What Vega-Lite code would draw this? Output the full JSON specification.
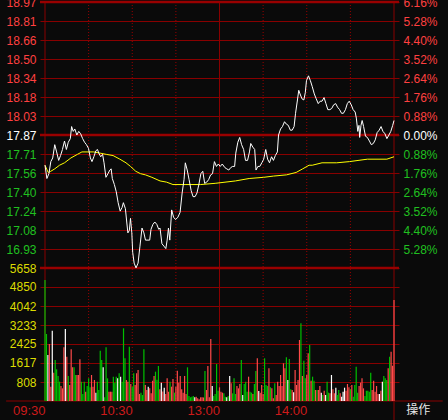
{
"$schema":"https://vega.github.io/schema/vega-lite/v6.json",
"width":359,"height":399,
"autosize":{"type":"none"},
"padding":{"left":40,"top":2,"right":49,"bottom":19},
"background":"#0a0a0a",
"config":{"view":{"stroke":null},"axis":{"labelFont":"Liberation Sans","labelFontSize":12,"ticks":false,"domain":false,"title":null,"labelFlush":false,"labelOverlap":false,"labelBound":false,"gridColor":"#880000","gridWidth":1,"gridOpacity":1}},
"datasets":{
"price":[
{"m":0,"p":17.62},{"m":1.3,"p":17.51},{"m":2.7,"p":17.55},{"m":4.0,"p":17.65},{"m":5.3,"p":17.68},{"m":6.7,"p":17.79},{"m":8.0,"p":17.73},{"m":9.4,"p":17.66},{"m":10.7,"p":17.70},{"m":12.0,"p":17.75},{"m":13.4,"p":17.82},{"m":14.7,"p":17.75},{"m":16.0,"p":17.81},{"m":17.4,"p":17.84},{"m":18.3,"p":17.94},{"m":19.4,"p":17.90},{"m":20.5,"p":17.92},{"m":21.9,"p":17.87},{"m":23.2,"p":17.90},{"m":24.5,"p":17.88},{"m":25.9,"p":17.84},{"m":27.2,"p":17.81},{"m":28.5,"p":17.79},{"m":29.9,"p":17.76},{"m":31.2,"p":17.68},{"m":32.3,"p":17.65},{"m":33.6,"p":17.69},{"m":35.0,"p":17.74},{"m":36.1,"p":17.75},{"m":37.0,"p":17.72},{"m":38.3,"p":17.69},{"m":39.6,"p":17.71},{"m":40.6,"p":17.64},{"m":41.9,"p":17.52},{"m":43.3,"p":17.55},{"m":44.6,"p":17.58},{"m":45.5,"p":17.59},{"m":46.3,"p":17.51},{"m":47.7,"p":17.46},{"m":49.0,"p":17.40},{"m":50.3,"p":17.31},{"m":51.7,"p":17.24},{"m":53.0,"p":17.27},{"m":53.9,"p":17.31},{"m":55.3,"p":17.26},{"m":56.2,"p":17.15},{"m":57.0,"p":17.06},{"m":58.0,"p":17.08},{"m":58.8,"p":17.18},{"m":59.7,"p":17.06},{"m":60.3,"p":16.90},{"m":61.3,"p":16.81},{"m":62.6,"p":16.77},{"m":64.0,"p":16.81},{"m":65.3,"p":16.95},{"m":66.7,"p":17.10},{"m":68.0,"p":17.06},{"m":69.1,"p":17.00},{"m":72.0,"p":17.00},{"m":72.9,"p":17.09},{"m":74.2,"p":17.13},{"m":75.5,"p":17.15},{"m":76.9,"p":17.13},{"m":78.2,"p":17.09},{"m":79.1,"p":17.10},{"m":80.4,"p":16.97},{"m":81.8,"p":16.95},{"m":83.1,"p":16.93},{"m":84.0,"p":17.00},{"m":84.9,"p":17.10},{"m":85.8,"p":17.00},{"m":87.1,"p":17.25},{"m":88.4,"p":17.19},{"m":89.8,"p":17.17},{"m":91.4,"p":17.19},{"m":92.9,"p":17.23},{"m":94.3,"p":17.39},{"m":95.6,"p":17.50},{"m":96.5,"p":17.64},{"m":97.8,"p":17.58},{"m":99.1,"p":17.50},{"m":100.5,"p":17.41},{"m":101.8,"p":17.36},{"m":103.2,"p":17.36},{"m":104.5,"p":17.39},{"m":105.8,"p":17.46},{"m":107.2,"p":17.55},{"m":108.5,"p":17.57},{"m":109.8,"p":17.47},{"m":111.2,"p":17.48},{"m":112.5,"p":17.50},{"m":113.9,"p":17.54},{"m":115.2,"p":17.55},{"m":116.5,"p":17.65},{"m":117.9,"p":17.61},{"m":119.2,"p":17.63},{"m":120.5,"p":17.61},{"m":121.9,"p":17.63},{"m":123.7,"p":17.60},{"m":125.0,"p":17.59},{"m":126.4,"p":17.58},{"m":127.7,"p":17.60},{"m":129.0,"p":17.61},{"m":130.4,"p":17.61},{"m":131.2,"p":17.72},{"m":132.6,"p":17.81},{"m":133.9,"p":17.85},{"m":135.2,"p":17.79},{"m":136.6,"p":17.75},{"m":137.9,"p":17.66},{"m":139.3,"p":17.66},{"m":140.6,"p":17.73},{"m":141.5,"p":17.80},{"m":142.9,"p":17.77},{"m":144.2,"p":17.75},{"m":145.1,"p":17.58},{"m":146.4,"p":17.61},{"m":147.7,"p":17.61},{"m":149.1,"p":17.64},{"m":150.4,"p":17.67},{"m":151.8,"p":17.75},{"m":153.1,"p":17.67},{"m":154.4,"p":17.64},{"m":155.8,"p":17.69},{"m":157.1,"p":17.66},{"m":158.4,"p":17.70},{"m":159.8,"p":17.73},{"m":160.6,"p":17.87},{"m":162.0,"p":17.92},{"m":163.3,"p":17.94},{"m":164.7,"p":17.98},{"m":166.0,"p":17.96},{"m":167.3,"p":17.95},{"m":168.7,"p":17.91},{"m":170.0,"p":17.91},{"m":171.3,"p":17.94},{"m":172.3,"p":18.05},{"m":173.6,"p":18.16},{"m":174.5,"p":18.24},{"m":175.4,"p":18.21},{"m":176.7,"p":18.17},{"m":178.0,"p":18.16},{"m":179.0,"p":18.22},{"m":179.8,"p":18.32},{"m":181.2,"p":18.36},{"m":182.5,"p":18.32},{"m":183.8,"p":18.27},{"m":185.2,"p":18.21},{"m":186.5,"p":18.17},{"m":187.9,"p":18.13},{"m":189.2,"p":18.15},{"m":190.5,"p":18.15},{"m":191.9,"p":18.18},{"m":193.2,"p":18.13},{"m":194.5,"p":18.08},{"m":195.9,"p":18.08},{"m":197.2,"p":18.09},{"m":198.5,"p":18.12},{"m":199.9,"p":18.13},{"m":201.2,"p":18.10},{"m":202.6,"p":18.08},{"m":203.9,"p":18.05},{"m":205.2,"p":18.05},{"m":206.6,"p":18.08},{"m":207.9,"p":18.13},{"m":209.2,"p":18.15},{"m":210.6,"p":18.12},{"m":211.9,"p":18.08},{"m":213.3,"p":18.06},{"m":214.1,"p":18.01},{"m":215.1,"p":17.90},{"m":215.9,"p":17.95},{"m":216.4,"p":17.85},{"m":217.3,"p":17.95},{"m":218.1,"p":17.99},{"m":219.1,"p":17.94},{"m":220.4,"p":17.86},{"m":221.7,"p":17.85},{"m":223.1,"p":17.82},{"m":224.4,"p":17.79},{"m":225.8,"p":17.80},{"m":227.1,"p":17.83},{"m":228.4,"p":17.89},{"m":229.8,"p":17.91},{"m":231.1,"p":17.94},{"m":232.4,"p":17.90},{"m":233.8,"p":17.88},{"m":235.1,"p":17.84},{"m":236.5,"p":17.87},{"m":237.8,"p":17.90},{"m":239.1,"p":17.95},{"m":240,"p":17.99}
],
"avg":[
{"m":0,"a":17.62},{"m":2.2,"a":17.56},{"m":4.0,"a":17.57},{"m":6.7,"a":17.59},{"m":10.0,"a":17.62},{"m":13.4,"a":17.64},{"m":17.8,"a":17.68},{"m":22.3,"a":17.71},{"m":25.4,"a":17.73},{"m":28.9,"a":17.73},{"m":33.4,"a":17.73},{"m":37.9,"a":17.72},{"m":42.1,"a":17.71},{"m":46.8,"a":17.70},{"m":51.5,"a":17.67},{"m":55.7,"a":17.64},{"m":58.8,"a":17.61},{"m":62.4,"a":17.57},{"m":65.7,"a":17.55},{"m":69.1,"a":17.54},{"m":73.5,"a":17.52},{"m":79.1,"a":17.49},{"m":83.6,"a":17.48},{"m":88.0,"a":17.46},{"m":96.9,"a":17.46},{"m":107.0,"a":17.46},{"m":117.0,"a":17.47},{"m":131.0,"a":17.49},{"m":140.4,"a":17.51},{"m":150.4,"a":17.52},{"m":157.1,"a":17.53},{"m":166.0,"a":17.54},{"m":172.7,"a":17.56},{"m":177.2,"a":17.59},{"m":181.6,"a":17.62},{"m":183.8,"a":17.62},{"m":190.5,"a":17.64},{"m":200.6,"a":17.64},{"m":209.4,"a":17.65},{"m":221.7,"a":17.67},{"m":235.1,"a":17.67},{"m":240,"a":17.69}
],
"vol":[
{"m":0,"v":5149,"d":"down"},{"m":1,"v":2851,"d":"down"},{"m":2,"v":1957,"d":"flat"},{"m":3,"v":2425,"d":"up"},{"m":4,"v":610,"d":"up"},{"m":5,"v":2993,"d":"flat"},{"m":6,"v":1206,"d":"up"},{"m":7,"v":1745,"d":"down"},{"m":8,"v":1347,"d":"down"},{"m":9,"v":1064,"d":"down"},{"m":10,"v":823,"d":"down"},{"m":11,"v":638,"d":"up"},{"m":12,"v":539,"d":"up"},{"m":13,"v":2283,"d":"up"},{"m":14,"v":3064,"d":"flat"},{"m":15,"v":1886,"d":"up"},{"m":16,"v":1064,"d":"down"},{"m":17,"v":681,"d":"up"},{"m":18,"v":2198,"d":"up"},{"m":19,"v":1433,"d":"up"},{"m":20,"v":1433,"d":"down"},{"m":21,"v":1106,"d":"down"},{"m":22,"v":1106,"d":"up"},{"m":23,"v":1106,"d":"up"},{"m":24,"v":1773,"d":"up"},{"m":25,"v":823,"d":"down"},{"m":26,"v":298,"d":"down"},{"m":27,"v":823,"d":"down"},{"m":28,"v":397,"d":"up"},{"m":29,"v":638,"d":"down"},{"m":30,"v":964,"d":"down"},{"m":31,"v":582,"d":"down"},{"m":32,"v":1106,"d":"up"},{"m":33,"v":610,"d":"up"},{"m":34,"v":894,"d":"up"},{"m":35,"v":355,"d":"flat"},{"m":36,"v":823,"d":"down"},{"m":37,"v":468,"d":"down"},{"m":38,"v":2142,"d":"down"},{"m":39,"v":1745,"d":"down"},{"m":40,"v":1433,"d":"flat"},{"m":41,"v":156,"d":"down"},{"m":42,"v":2283,"d":"down"},{"m":43,"v":964,"d":"down"},{"m":44,"v":397,"d":"up"},{"m":45,"v":397,"d":"up"},{"m":46,"v":397,"d":"up"},{"m":47,"v":1035,"d":"down"},{"m":48,"v":780,"d":"down"},{"m":49,"v":1035,"d":"down"},{"m":50,"v":964,"d":"flat"},{"m":51,"v":1177,"d":"down"},{"m":52,"v":1035,"d":"flat"},{"m":53,"v":823,"d":"down"},{"m":54,"v":3092,"d":"down"},{"m":55,"v":1816,"d":"down"},{"m":56,"v":894,"d":"up"},{"m":57,"v":823,"d":"up"},{"m":58,"v":2312,"d":"down"},{"m":59,"v":723,"d":"up"},{"m":60,"v":610,"d":"down"},{"m":61,"v":1177,"d":"down"},{"m":62,"v":681,"d":"up"},{"m":63,"v":1177,"d":"up"},{"m":64,"v":1319,"d":"up"},{"m":65,"v":298,"d":"up"},{"m":66,"v":355,"d":"down"},{"m":67,"v":255,"d":"down"},{"m":68,"v":2198,"d":"down"},{"m":69,"v":681,"d":"up"},{"m":70,"v":468,"d":"up"},{"m":71,"v":610,"d":"flat"},{"m":72,"v":539,"d":"up"},{"m":73,"v":326,"d":"up"},{"m":74,"v":859,"d":"up"},{"m":75,"v":1064,"d":"up"},{"m":76,"v":1248,"d":"down"},{"m":77,"v":900,"d":"down"},{"m":78,"v":1489,"d":"down"},{"m":79,"v":500,"d":"up"},{"m":80,"v":780,"d":"flat"},{"m":81,"v":400,"d":"up"},{"m":82,"v":567,"d":"flat"},{"m":83,"v":300,"d":"up"},{"m":84,"v":964,"d":"up"},{"m":85,"v":397,"d":"up"},{"m":86,"v":823,"d":"down"},{"m":87,"v":610,"d":"up"},{"m":88,"v":936,"d":"up"},{"m":89,"v":355,"d":"down"},{"m":90,"v":610,"d":"up"},{"m":91,"v":1291,"d":"up"},{"m":92,"v":780,"d":"up"},{"m":93,"v":1064,"d":"up"},{"m":94,"v":496,"d":"up"},{"m":95,"v":355,"d":"up"},{"m":96,"v":1064,"d":"up"},{"m":97,"v":300,"d":"up"},{"m":98,"v":1433,"d":"down"},{"m":99,"v":213,"d":"down"},{"m":100,"v":156,"d":"down"},{"m":101,"v":184,"d":"down"},{"m":102,"v":213,"d":"down"},{"m":103,"v":156,"d":"flat"},{"m":104,"v":184,"d":"up"},{"m":105,"v":114,"d":"up"},{"m":106,"v":71,"d":"up"},{"m":107,"v":156,"d":"up"},{"m":108,"v":156,"d":"up"},{"m":109,"v":150,"d":"up"},{"m":110,"v":1277,"d":"down"},{"m":111,"v":468,"d":"up"},{"m":112,"v":1489,"d":"up"},{"m":113,"v":156,"d":"up"},{"m":114,"v":2638,"d":"up"},{"m":115,"v":638,"d":"flat"},{"m":116,"v":213,"d":"down"},{"m":117,"v":300,"d":"down"},{"m":118,"v":1574,"d":"down"},{"m":119,"v":440,"d":"down"},{"m":120,"v":582,"d":"up"},{"m":121,"v":397,"d":"up"},{"m":122,"v":355,"d":"up"},{"m":123,"v":326,"d":"down"},{"m":124,"v":184,"d":"down"},{"m":125,"v":156,"d":"flat"},{"m":126,"v":213,"d":"down"},{"m":127,"v":1064,"d":"flat"},{"m":128,"v":752,"d":"up"},{"m":129,"v":326,"d":"down"},{"m":130,"v":964,"d":"down"},{"m":131,"v":298,"d":"down"},{"m":132,"v":638,"d":"up"},{"m":133,"v":539,"d":"up"},{"m":134,"v":723,"d":"up"},{"m":135,"v":1745,"d":"down"},{"m":136,"v":255,"d":"flat"},{"m":137,"v":723,"d":"down"},{"m":138,"v":823,"d":"down"},{"m":139,"v":397,"d":"down"},{"m":140,"v":1035,"d":"up"},{"m":141,"v":397,"d":"down"},{"m":142,"v":355,"d":"down"},{"m":143,"v":298,"d":"up"},{"m":144,"v":723,"d":"down"},{"m":145,"v":1277,"d":"down"},{"m":146,"v":1816,"d":"up"},{"m":147,"v":426,"d":"flat"},{"m":148,"v":355,"d":"up"},{"m":149,"v":681,"d":"up"},{"m":150,"v":298,"d":"up"},{"m":151,"v":1816,"d":"down"},{"m":152,"v":681,"d":"down"},{"m":153,"v":638,"d":"down"},{"m":154,"v":1390,"d":"up"},{"m":155,"v":582,"d":"down"},{"m":156,"v":539,"d":"up"},{"m":157,"v":114,"d":"up"},{"m":158,"v":752,"d":"down"},{"m":159,"v":255,"d":"up"},{"m":160,"v":823,"d":"up"},{"m":161,"v":638,"d":"up"},{"m":162,"v":1106,"d":"up"},{"m":163,"v":638,"d":"up"},{"m":164,"v":1603,"d":"up"},{"m":165,"v":1390,"d":"up"},{"m":166,"v":1858,"d":"down"},{"m":167,"v":894,"d":"flat"},{"m":168,"v":1788,"d":"down"},{"m":169,"v":496,"d":"down"},{"m":170,"v":468,"d":"up"},{"m":171,"v":369,"d":"flat"},{"m":172,"v":1319,"d":"up"},{"m":173,"v":681,"d":"up"},{"m":174,"v":894,"d":"up"},{"m":175,"v":2596,"d":"up"},{"m":176,"v":3305,"d":"down"},{"m":177,"v":1064,"d":"up"},{"m":178,"v":1716,"d":"down"},{"m":179,"v":964,"d":"down"},{"m":180,"v":1106,"d":"up"},{"m":181,"v":2028,"d":"up"},{"m":182,"v":2383,"d":"down"},{"m":183,"v":859,"d":"up"},{"m":184,"v":1035,"d":"down"},{"m":185,"v":859,"d":"down"},{"m":186,"v":468,"d":"up"},{"m":187,"v":468,"d":"down"},{"m":188,"v":468,"d":"up"},{"m":189,"v":638,"d":"up"},{"m":190,"v":355,"d":"flat"},{"m":191,"v":255,"d":"down"},{"m":192,"v":440,"d":"up"},{"m":193,"v":255,"d":"flat"},{"m":194,"v":823,"d":"down"},{"m":195,"v":355,"d":"down"},{"m":196,"v":326,"d":"up"},{"m":197,"v":1106,"d":"flat"},{"m":198,"v":496,"d":"up"},{"m":199,"v":326,"d":"up"},{"m":200,"v":567,"d":"flat"},{"m":201,"v":255,"d":"down"},{"m":202,"v":468,"d":"down"},{"m":203,"v":326,"d":"up"},{"m":204,"v":184,"d":"flat"},{"m":205,"v":397,"d":"flat"},{"m":206,"v":567,"d":"flat"},{"m":207,"v":440,"d":"up"},{"m":208,"v":723,"d":"up"},{"m":209,"v":582,"d":"up"},{"m":210,"v":496,"d":"down"},{"m":211,"v":681,"d":"up"},{"m":212,"v":184,"d":"down"},{"m":213,"v":681,"d":"down"},{"m":214,"v":1461,"d":"down"},{"m":215,"v":355,"d":"down"},{"m":216,"v":638,"d":"up"},{"m":217,"v":780,"d":"up"},{"m":218,"v":964,"d":"up"},{"m":219,"v":539,"d":"up"},{"m":220,"v":213,"d":"down"},{"m":221,"v":440,"d":"down"},{"m":222,"v":440,"d":"down"},{"m":223,"v":397,"d":"down"},{"m":224,"v":1206,"d":"down"},{"m":225,"v":468,"d":"up"},{"m":226,"v":859,"d":"up"},{"m":227,"v":397,"d":"up"},{"m":228,"v":638,"d":"up"},{"m":229,"v":298,"d":"up"},{"m":230,"v":298,"d":"flat"},{"m":231,"v":440,"d":"up"},{"m":232,"v":823,"d":"flat"},{"m":233,"v":1064,"d":"down"},{"m":234,"v":964,"d":"down"},{"m":235,"v":894,"d":"down"},{"m":236,"v":1390,"d":"up"},{"m":237,"v":1886,"d":"down"},{"m":238,"v":2099,"d":"up"},{"m":239,"v":1500,"d":"up"},{"m":240,"v":4300,"d":"up"}
]
},
"layer":[
{"data":{"values":[{"m":30},{"m":60},{"m":90},{"m":150},{"m":180},{"m":210}]},"mark":{"type":"rule","color":"#990000","strokeDash":[1,2],"strokeWidth":1},"encoding":{"x":{"field":"m","type":"quantitative","scale":{"domain":[0,240],"nice":false,"zero":false},"axis":{"orient":"bottom","values":[0,60,120,180],"labelExpr":"datum.value==0?'09:30':datum.value==60?'10:30':datum.value==120?'13:00':'14:00'","labelAlign":"right","labelColor":"#cc1a1a","labelFontSize":13,"labelPadding":3,"grid":false,"labelOverlap":false}}}},
{"data":{"values":[{"m":0},{"m":120},{"m":240}]},"mark":{"type":"rule","color":"#880000","strokeWidth":1},"encoding":{"x":{"field":"m","type":"quantitative","scale":{"domain":[0,240],"nice":false,"zero":false},"axis":{"orient":"bottom","values":[0,60,120,180],"labelExpr":"datum.value==0?'09:30':datum.value==60?'10:30':datum.value==120?'13:00':'14:00'","labelAlign":"right","labelColor":"#cc1a1a","labelFontSize":13,"labelPadding":3,"grid":false,"labelOverlap":false}}}},
{"data":{"values":[{"p":17.87},{"p":18.9708}]},"mark":{"type":"rule","color":"#990000","strokeWidth":2.5},"encoding":{"y":{"field":"p","type":"quantitative","scale":{"domain":[15.6684,18.971],"nice":false,"zero":false},"axis":{"orient":"right","values":[16.926464,17.08372,17.240976,17.398232,17.555488,17.712744,17.87,18.027256,18.184512,18.341768,18.499024,18.65628,18.813536,18.970792],"labelExpr":"format(abs(datum.value-17.87)/17.87*100,'.2f')+'%'","labelPadding":4,"grid":false,"labelOverlap":false,"labelColor":{"condition":[{"test":"datum.value > 17.88","value":"#ff4040"},{"test":"datum.value > 17.86","value":"#ffffff"}],"value":"#20c020"}}}}},
{"layer":[
{"data":{"values":[{"v":5658.4}]},"mark":{"type":"rule","color":"#990000","strokeWidth":2.5},"encoding":{"y":{"field":"v","type":"quantitative","scale":{"domain":[0,16975.2],"nice":false,"zero":false},"axis":{"orient":"right","values":[808.34,1616.69,2425.03,3233.37,4041.71,4850.06,5658.4],"format":".0f","labelPadding":4,"grid":false,"labelOverlap":false,"labelColor":"#dcdc00"}}}},
{"data":{"values":[{}]},"mark":{"type":"rule","color":"#880000","strokeWidth":1},"encoding":{"x":{"datum":-26.74,"type":"quantitative","axis":{"orient":"bottom","values":[0,60,120,180],"labelExpr":"datum.value==0?'09:30':datum.value==60?'10:30':datum.value==120?'13:00':'14:00'","labelAlign":"right","labelColor":"#cc1a1a","labelFontSize":13,"labelPadding":3,"grid":false,"labelOverlap":false}},"x2":{"datum":273.5},"y":{"datum":0,"type":"quantitative","axis":null}}},
{"data":{"values":[{}]},"mark":{"type":"rule","color":"#880000","strokeWidth":1},"encoding":{"x":{"datum":240,"type":"quantitative","axis":{"orient":"bottom","values":[0,60,120,180],"labelExpr":"datum.value==0?'09:30':datum.value==60?'10:30':datum.value==120?'13:00':'14:00'","labelAlign":"right","labelColor":"#cc1a1a","labelFontSize":13,"labelPadding":3,"grid":false,"labelOverlap":false}},"y":{"datum":0,"type":"quantitative","axis":null},"y2":{"datum":-808}}},
{"data":{"values":[{"t":"操作","m":256.7,"v":-383}]},"mark":{"type":"text","font":"Noto Sans CJK SC","fontSize":12,"color":"#e8e8e8","baseline":"middle","align":"center"},"encoding":{"x":{"field":"m","type":"quantitative","axis":{"orient":"bottom","values":[0,60,120,180],"labelExpr":"datum.value==0?'09:30':datum.value==60?'10:30':datum.value==120?'13:00':'14:00'","labelAlign":"right","labelColor":"#cc1a1a","labelFontSize":13,"labelPadding":3,"grid":false,"labelOverlap":false}},"y":{"field":"v","type":"quantitative","axis":null},"text":{"field":"t"}}}
]},
{"data":{"name":"vol"},"mark":{"type":"bar","size":1.2},"encoding":{"x":{"field":"m","type":"quantitative","scale":{"domain":[0,240],"nice":false,"zero":false},"axis":{"orient":"bottom","values":[0,60,120,180],"labelExpr":"datum.value==0?'09:30':datum.value==60?'10:30':datum.value==120?'13:00':'14:00'","labelAlign":"right","labelColor":"#cc1a1a","labelFontSize":13,"labelPadding":3,"grid":false,"labelOverlap":false}},"y":{"field":"v","type":"quantitative","scale":{"domain":[0,16975.2],"nice":false,"zero":false},"axis":{"orient":"left","values":[808.34,1616.69,2425.03,3233.37,4041.71,4850.06,5658.4],"format":".0f","labelPadding":4,"grid":true,"labelOverlap":false,"labelColor":"#dcdc00"}},"color":{"field":"d","type":"nominal","scale":{"domain":["up","down","flat"],"range":["#ff4a4a","#00c000","#ffffff"]},"legend":null}}},
{"layer":[
{"data":{"name":"avg"},"mark":{"type":"line","color":"#ffff00","strokeWidth":1},"encoding":{"x":{"field":"m","type":"quantitative","scale":{"domain":[0,240],"nice":false,"zero":false},"axis":{"orient":"bottom","values":[0,60,120,180],"labelExpr":"datum.value==0?'09:30':datum.value==60?'10:30':datum.value==120?'13:00':'14:00'","labelAlign":"right","labelColor":"#cc1a1a","labelFontSize":13,"labelPadding":3,"grid":false,"labelOverlap":false}},"y":{"field":"a","type":"quantitative","scale":{"domain":[15.6684,18.971],"nice":false,"zero":false},"axis":{"orient":"left","values":[16.926464,17.08372,17.240976,17.398232,17.555488,17.712744,17.87,18.027256,18.184512,18.341768,18.499024,18.65628,18.813536,18.970792],"format":".2f","labelPadding":4,"grid":true,"labelOverlap":false,"labelColor":{"condition":[{"test":"datum.value > 17.88","value":"#ff4040"},{"test":"datum.value > 17.86","value":"#ffffff"}],"value":"#20c020"}}}}},
{"data":{"name":"price"},"mark":{"type":"line","color":"#ffffff","strokeWidth":1},"encoding":{"x":{"field":"m","type":"quantitative","scale":{"domain":[0,240],"nice":false,"zero":false},"axis":{"orient":"bottom","values":[0,60,120,180],"labelExpr":"datum.value==0?'09:30':datum.value==60?'10:30':datum.value==120?'13:00':'14:00'","labelAlign":"right","labelColor":"#cc1a1a","labelFontSize":13,"labelPadding":3,"grid":false,"labelOverlap":false}},"y":{"field":"p","type":"quantitative","scale":{"domain":[15.6684,18.971],"nice":false,"zero":false},"axis":{"orient":"left","values":[16.926464,17.08372,17.240976,17.398232,17.555488,17.712744,17.87,18.027256,18.184512,18.341768,18.499024,18.65628,18.813536,18.970792],"format":".2f","labelPadding":4,"grid":true,"labelOverlap":false,"labelColor":{"condition":[{"test":"datum.value > 17.88","value":"#ff4040"},{"test":"datum.value > 17.86","value":"#ffffff"}],"value":"#20c020"}}}}}
]}
],
"resolve":{"scale":{"y":"independent"},"axis":{"y":"independent"}}
}
